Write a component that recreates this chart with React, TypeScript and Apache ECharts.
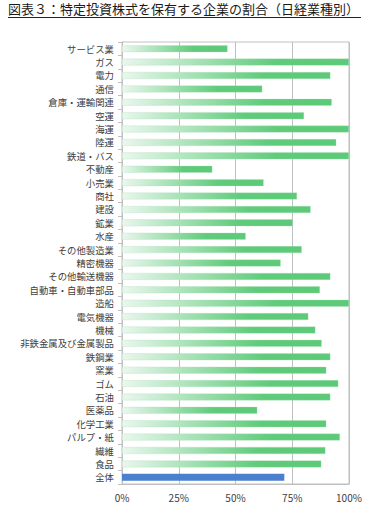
import React, { useEffect, useRef } from "react";
import * as echarts from "echarts";

const categories = [
  "サービス業", "ガス", "電力", "通信", "倉庫・運輸関連", "空運", "海運", "陸運", "鉄道・バス",
  "不動産", "小売業", "商社", "建設", "鉱業", "水産", "その他製造業", "精密機器", "その他輸送機器",
  "自動車・自動車部品", "造船", "電気機器", "機械", "非鉄金属及び金属製品", "鉄鋼業", "窯業",
  "ゴム", "石油", "医薬品", "化学工業", "パルプ・紙", "繊維", "食品", "全体",
];
const values = [
  46.5, 100, 91.8, 61.8, 92.4, 80.2, 100, 94.4, 100,
  39.8, 62.4, 77.1, 83.1, 75.2, 54.5, 79.2, 69.9, 91.8,
  87.2, 100, 82.1, 85.2, 88.0, 91.8, 90.0,
  95.3, 91.8, 59.6, 90.0, 96.0, 89.6, 87.8, 71.5,
];
const xTicks = [0, 25, 50, 75, 100];
const titleText = "図表３：特定投資株式を保有する企業の割合（日経業種別）";

export default function App() {
  const ref = useRef<HTMLDivElement>(null);
  useEffect(() => {
    if (!ref.current) return;
    const chart = echarts.init(ref.current, null, { renderer: "svg" });
    const green = new echarts.graphic.LinearGradient(0, 0, 1, 0, [
      { offset: 0, color: "#eaf7ee" },
      { offset: 0.68, color: "#60cb7b" },
      { offset: 1, color: "#5cca78" },
    ]);
    const font = "'Noto Sans CJK JP', sans-serif";
    chart.setOption({
      animation: false,
      backgroundColor: "#ffffff",
      textStyle: { fontFamily: font },
      graphic: [
        {
          type: "text",
          left: 8,
          top: 2,
          style: { text: titleText, fontSize: 13, fill: "#1a1a1a", fontFamily: font },
        },
        {
          type: "line",
          shape: { x1: 8, y1: 17.5, x2: 361, y2: 17.5 },
          style: { stroke: "#222", lineWidth: 1 },
        },
      ],
      grid: {
        left: 122,
        right: 28,
        top: 42,
        bottom: 37,
        show: true,
        borderColor: "#c0c0c0",
        borderWidth: 1,
      },
      xAxis: {
        type: "value",
        min: 0,
        max: 100,
        interval: 25,
        axisLine: { show: true, lineStyle: { color: "#c0c0c0" } },
        axisTick: { show: false },
        splitLine: { show: true, lineStyle: { color: "#c0c0c0" } },
        axisLabel: {
          color: "#404040",
          fontSize: 10,
          margin: 8,
          fontFamily: font,
          formatter: (v: number) => (xTicks.includes(v) ? v + "%" : ""),
        },
      },
      yAxis: {
        type: "category",
        inverse: true,
        data: categories,
        axisLine: { show: true, lineStyle: { color: "#c0c0c0" } },
        axisTick: { show: true, length: 4, lineStyle: { color: "#c0c0c0" } },
        axisLabel: {
          color: "#404040",
          fontSize: 9.4,
          lineHeight: 11,
          margin: 8,
          fontFamily: font,
          interval: 0,
        },
      },
      series: [
        {
          type: "bar",
          barWidth: 7,
          data: values.map((v, i) => ({
            value: v,
            itemStyle:
              categories[i] === "全体"
                ? { color: "#4a80cd" }
                : { color: green, borderColor: "rgba(170,225,185,0.6)", borderWidth: 0.5 },
          })),
        },
      ],
    });
    return () => chart.dispose();
  }, []);
  return (
    <div
      ref={ref}
      style={{ position: "absolute", left: 0, top: 0, width: 377, height: 521 }}
    />
  );
}
